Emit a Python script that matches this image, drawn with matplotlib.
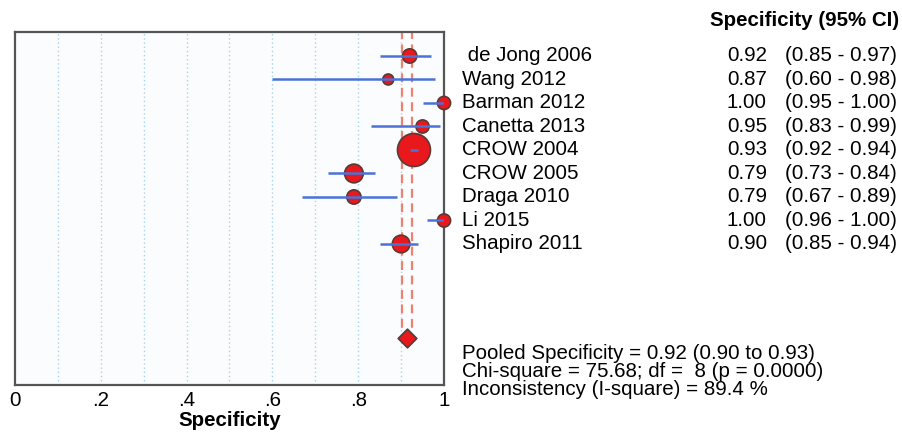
import numpy as np
import matplotlib.pyplot as plt
import matplotlib.transforms as mtransforms

plt.rcParams['font.family'] = ['Liberation Sans', 'DejaVu Sans']

studies = [" de Jong 2006", "Wang 2012", "Barman 2012", "Canetta 2013", "CROW 2004",
           "CROW 2005", "Draga 2010", "Li 2015", "Shapiro 2011"]
spec = [0.92, 0.87, 1.00, 0.95, 0.93, 0.79, 0.79, 1.00, 0.90]
ci_lo = [0.85, 0.60, 0.95, 0.83, 0.92, 0.73, 0.67, 0.96, 0.85]
ci_hi = [0.97, 0.98, 1.00, 0.99, 0.94, 0.84, 0.89, 1.00, 0.94]
# relative weight (%)
weights = [7.3, 4.3, 6.2, 6.2, 38.9, 12.5, 7.3, 6.2, 11.1]

pooled = 0.914
pooled_lo = 0.902
pooled_hi = 0.925
pooled_txt = ["Pooled Specificity = 0.92 (0.90 to 0.93)",
              "Chi-square = 75.68; df =  8 (p = 0.0000)",
              "Inconsistency (I-square) = 89.4 %"]
xticks = [0, 0.2, 0.4, 0.6, 0.8, 1.0]
xticklabels = ["0", ".2", ".4", ".6", ".8", "1"]

fs = 14.8

fig = plt.figure(figsize=(9.03, 4.32), dpi=100)
ax = fig.add_axes([15/903, 47/432, 429/903, 353/432])
ax.set_facecolor("#fbfcfe")

y = -np.arange(len(studies))

# dotted grid
for g in np.arange(0.1, 1.0, 0.1):
    ax.axvline(g, color="#a9d3ee", ls=(0, (1, 2)), lw=1, zorder=1)

# pooled CI lines
for v in (pooled_lo, pooled_hi):
    ax.plot([v, v], [1.1, -11.7], color="#f08070", ls=(0, (4, 2.5)), lw=1.6, zorder=2)

ax.scatter(spec, y, s=np.array(weights) * 14.5, color="#e8181c", edgecolor="#5a3a36",
           linewidth=1.2, zorder=3, clip_on=False)
ax.hlines(y, ci_lo, ci_hi, color="#4a72d8", lw=1.8, zorder=4)

ax.scatter([pooled], [-12], marker="D", s=90, color="#e8181c", edgecolor="#5a3a36",
           linewidth=1.2, zorder=3)

ax.set_xlim(0, 1)
ax.set_ylim(-14, 1.02)
ax.set_yticks([])
ax.set_xticks(xticks)
ax.set_xticklabels(xticklabels, fontsize=fs)
ax.tick_params(axis="x", length=0, pad=4)
ax.set_xlabel("Specificity", fontsize=fs, fontweight="bold", labelpad=1)
for sp in ax.spines.values():
    sp.set_color("#555555")
    sp.set_linewidth(1.6)

tr = mtransforms.blended_transform_factory(fig.transFigure, ax.transData)
fig.text(710/903, 1.53, "Specificity (95% CI)", transform=tr, fontsize=fs,
         fontweight="bold", va="center", ha="left")
for i in range(len(studies)):
    fig.text(462/903, y[i], studies[i], transform=tr, fontsize=fs, va="center", ha="left")
    fig.text(767/903, y[i], "%.2f" % spec[i], transform=tr, fontsize=fs, va="center", ha="right")
    fig.text(785/903, y[i], "(%.2f - %.2f)" % (ci_lo[i], ci_hi[i]), transform=tr,
             fontsize=fs, va="center", ha="left")

for k, t in enumerate(pooled_txt):
    fig.text(462/903, -12.65 - 0.77 * k, t, transform=tr, fontsize=fs, va="center", ha="left")

fig.savefig("out.png", dpi=100)
